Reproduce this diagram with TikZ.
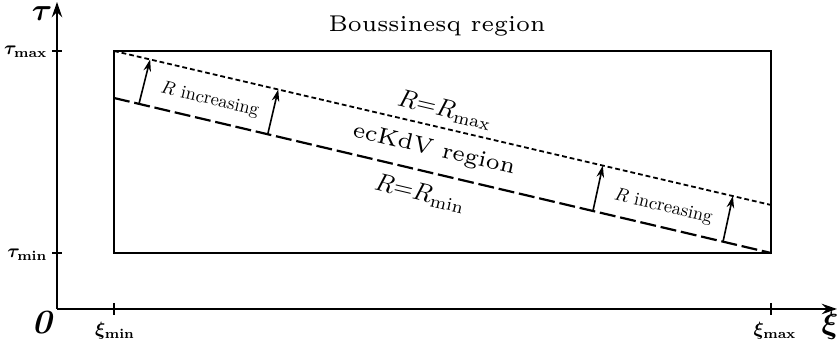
\documentclass[tikz,border=0pt]{standalone}
\usepackage{bm}
\usetikzlibrary{arrows.meta,calc}
\newcommand{\regionfont}{\fontsize{5.7}{7}\selectfont}
\begin{document}
\begin{tikzpicture}[x=0.25pt,y=-0.25pt,
    axis/.style={line width=0.5pt, -{Stealth[length=3.8pt,width=2.6pt]}},
    frame/.style={line width=0.5pt},
    tickmark/.style={line width=0.35pt},
    maxline/.style={line width=0.45pt, dash pattern=on 1.2pt off 0.75pt},
    minline/.style={line width=0.55pt, dash pattern=on 4pt off 1.2pt},
    incr/.style={line width=0.4pt, -{Stealth[length=3pt,width=1.9pt]}},
    ticklabel/.style={inner sep=0.5pt},
    linelabel/.style={sloped, inner sep=0pt}]
    \useasboundingbox (0,0) rectangle (837,349);
    % axes
    \coordinate (O) at (57,309);
    \coordinate (ytop) at (57,2);
    \coordinate (xend) at (837,309);
    \draw[axis] (O) -- (ytop);
    \draw[axis] (O) -- (xend);
    % parameter box and the two limit lines
    \coordinate (bl) at (114,253);
    \coordinate (tr) at (771,51);
    \coordinate (maxL) at (114,51);
    \coordinate (maxR) at (771,205);
    \coordinate (minL) at (114,98);
    \coordinate (minR) at (771,253);
    \draw[frame] (bl) rectangle (tr);
    \draw[maxline] (maxL) -- (maxR);
    \draw[minline] (minL) -- (minR);
    \foreach \s/\e in {0.038/0.055, 0.234/0.25, 0.729/0.744, 0.927/0.942}
        \draw[incr] ($(minL)!\s!(minR)$) -- ($(maxL)!\e!(maxR)$);
    % ticks
    \draw[tickmark] ($(O|-tr)+(-5,0)$) -- ++(10,0);
    \draw[tickmark] ($(O|-bl)+(-5,0)$) -- ++(10,0);
    \draw[tickmark] ($(bl|-O)+(0,-6)$) -- ++(0,12);
    \draw[tickmark] ($(tr|-O)+(0,-6)$) -- ++(0,12);
    % axis labels
    \node[inner sep=0pt] (tau) at (42,14) {\scalebox{0.78}{$\bm{\tau}$}};
    \node[inner sep=0pt] (xi) at (830,326) {\scalebox{0.78}{$\bm{\xi}$}};
    \node[inner sep=0pt] (zero) at (44,323) {\scalebox{0.85}{$\bm{\mathit{0}}$}};
    \node[ticklabel, anchor=east] (taumax) at (50,52) {\scalebox{0.48}{$\bm{\tau}_{\mathbf{max}}$}};
    \node[ticklabel, anchor=east] (taumin) at (50,255) {\scalebox{0.48}{$\bm{\tau}_{\mathbf{min}}$}};
    \node (ximin) at (115,331) {\scalebox{0.48}{$\bm{\xi}_{\mathbf{min}}$}};
    \node (ximax) at (775,331) {\scalebox{0.48}{$\bm{\xi}_{\mathbf{max}}$}};
    % region labels
    \node (bous) at (437,26) {\regionfont Boussinesq region};
    \path ($(minL)+(0,-23.5)$) -- ($(minR)+(0,-23.5)$)
        node[linelabel, pos=0.487] (eckdv) {\regionfont ecKdV region};
    \path ($(maxL)+(0,-19)$) -- ($(maxR)+(0,-19)$)
        node[linelabel, pos=0.504] (rmax) {\scalebox{0.63}{$R{=}R_{\max}$}};
    \path ($(minL)+(0,23)$) -- ($(minR)+(0,23)$)
        node[linelabel, pos=0.466] (rmin) {\scalebox{0.63}{$R{=}R_{\min}$}};
    \path ($(minL)+(0,-20.5)$) -- ($(minR)+(0,-20.5)$)
        node[linelabel, pos=0.146] (incA) {\scalebox{0.46}{$R$ increasing}}
        node[linelabel, pos=0.836] (incB) {\scalebox{0.46}{$R$ increasing}};
\end{tikzpicture}
\end{document}
